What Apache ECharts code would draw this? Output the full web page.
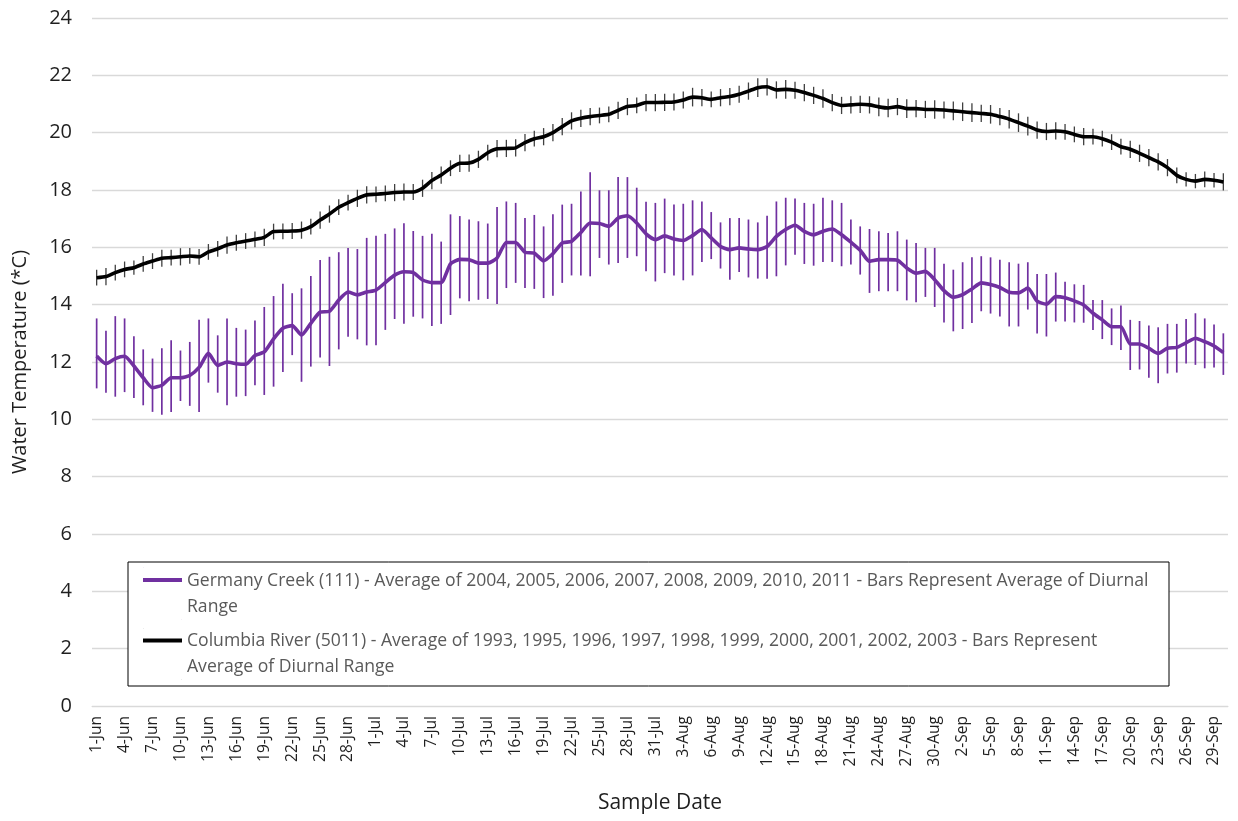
<!DOCTYPE html>
<html>
<head>
<meta charset="utf-8">
<script src="https://cdn.jsdelivr.net/npm/echarts@6/dist/echarts.min.js"></script>
<style>html,body{margin:0;padding:0;background:#fff}#c{width:1238px;height:821px}</style>
</head>
<body>
<div id="c"></div>
<script>
const months = ['Jun','Jul','Aug','Sep'];
const monthDays = [30,31,31,30];
const categories = [];
months.forEach((m,k)=>{for(let d=1; d<=monthDays[k]; d++) categories.push(d+'-'+m);});

const yTicks = [0,2,4,6,8,10,12,14,16,18,20,22,24];

const germanyMean = [12.21,11.94,12.12,12.2,11.86,11.45,11.1,11.19,11.45,11.45,11.53,11.81,12.3,11.88,12.0,11.94,11.92,12.23,12.35,12.81,
13.18,13.27,12.94,13.35,13.74,13.77,14.16,14.44,14.34,14.44,14.51,14.77,15.03,15.15,15.12,14.86,14.77,14.77,15.42,15.58,
15.57,15.45,15.45,15.63,16.17,16.17,15.83,15.8,15.53,15.78,16.15,16.21,16.52,16.85,16.83,16.73,17.02,17.1,16.85,16.47,
16.27,16.4,16.29,16.24,16.41,16.62,16.33,16.03,15.92,15.98,15.94,15.92,16.03,16.38,16.62,16.77,16.56,16.44,16.56,16.64,
16.44,16.18,15.9,15.51,15.57,15.57,15.55,15.28,15.1,15.16,14.87,14.49,14.26,14.35,14.55,14.76,14.7,14.6,14.43,14.41,
14.58,14.12,14.02,14.28,14.24,14.13,13.99,13.7,13.47,13.23,13.23,12.63,12.63,12.48,12.3,12.48,12.51,12.67,12.83,12.71,
12.56,12.33];
const germanyHigh = [13.52,13.09,13.6,13.52,12.9,12.44,12.12,12.48,12.76,12.4,12.7,13.47,13.52,12.93,13.52,13.19,13.13,13.45,13.92,14.3,
14.73,14.4,14.57,15.0,15.56,15.67,15.83,15.98,15.94,16.33,16.4,16.47,16.66,16.84,16.57,16.4,16.47,16.2,17.15,17.09,
16.97,16.91,16.83,17.41,17.6,17.55,17.02,17.13,16.73,17.15,17.49,17.52,17.95,18.62,17.99,17.99,18.45,18.45,18.08,17.59,
17.55,17.7,17.49,17.52,17.64,17.6,17.23,16.87,17.02,17.02,16.97,16.87,17.1,17.6,17.73,17.7,17.55,17.52,17.73,17.64,
17.55,16.97,16.73,16.64,16.56,16.5,16.56,16.27,16.15,15.98,15.98,15.43,15.22,15.48,15.65,15.69,15.65,15.57,15.48,15.43,
15.48,15.07,15.07,15.12,14.8,14.71,14.69,14.16,14.16,13.87,13.97,13.47,13.43,13.27,13.21,13.33,13.33,13.5,13.7,13.52,
13.31,13.0];
const germanyLow = [11.08,10.93,10.79,10.95,10.74,10.49,10.26,10.16,10.26,10.64,10.47,10.26,11.28,10.93,10.49,10.79,10.81,11.19,10.85,11.14,
11.65,12.24,11.31,11.84,12.16,11.86,12.44,12.88,12.79,12.58,12.58,13.12,13.5,13.33,13.58,13.52,13.26,13.33,13.64,14.22,
14.12,14.17,14.2,14.02,14.58,14.76,14.58,14.55,14.23,14.31,14.76,15.02,15.02,14.99,15.63,15.4,15.45,15.63,15.69,15.17,
14.81,15.1,15.02,14.85,15.02,15.49,15.59,15.26,14.87,15.14,14.95,14.91,14.9,14.99,15.37,15.74,15.42,15.36,15.49,15.49,
15.34,15.4,15.05,14.41,14.47,14.47,14.47,14.15,14.08,14.27,13.92,13.38,13.07,13.15,13.36,13.77,13.69,13.59,13.24,13.24,
13.83,12.99,12.89,13.41,13.41,13.38,13.37,13.12,12.8,12.59,12.42,11.72,11.74,11.45,11.26,11.6,11.63,11.95,11.9,11.78,
11.81,11.55];

const columbiaMean = [14.94,14.98,15.12,15.23,15.29,15.42,15.52,15.62,15.64,15.67,15.7,15.67,15.84,15.95,16.08,16.16,16.22,16.28,16.35,16.55,
16.56,16.57,16.6,16.72,16.95,17.16,17.4,17.56,17.71,17.83,17.85,17.88,17.91,17.93,17.93,18.06,18.33,18.52,18.76,18.93,
18.94,19.07,19.3,19.44,19.45,19.47,19.65,19.79,19.86,20.0,20.21,20.41,20.5,20.56,20.6,20.64,20.78,20.91,20.95,21.05,
21.05,21.06,21.07,21.14,21.24,21.22,21.16,21.22,21.26,21.34,21.45,21.57,21.6,21.49,21.51,21.48,21.4,21.3,21.19,21.05,
20.95,20.97,20.99,20.97,20.9,20.86,20.91,20.84,20.84,20.81,20.81,20.79,20.76,20.73,20.7,20.67,20.64,20.56,20.47,20.35,
20.23,20.09,20.04,20.06,20.03,19.94,19.86,19.86,19.79,19.67,19.51,19.42,19.28,19.13,18.98,18.78,18.51,18.37,18.31,18.37,
18.34,18.28];
const columbiaRange = [0.55,0.6,0.55,0.55,0.5,0.55,0.55,0.6,0.55,0.6,0.55,0.55,0.55,0.55,0.6,0.55,0.55,0.55,0.6,0.55,
0.55,0.55,0.6,0.55,0.6,0.6,0.55,0.55,0.6,0.6,0.55,0.55,0.6,0.6,0.55,0.6,0.6,0.6,0.55,0.6,
0.6,0.6,0.55,0.6,0.6,0.6,0.6,0.55,0.6,0.6,0.6,0.6,0.6,0.6,0.55,0.55,0.6,0.6,0.55,0.6,
0.6,0.6,0.6,0.6,0.65,0.6,0.55,0.6,0.6,0.6,0.6,0.65,0.6,0.6,0.65,0.6,0.6,0.6,0.65,0.6,
0.6,0.6,0.6,0.6,0.65,0.65,0.6,0.65,0.6,0.6,0.65,0.6,0.65,0.65,0.65,0.6,0.65,0.6,0.65,0.65,
0.65,0.6,0.6,0.6,0.55,0.55,0.6,0.55,0.55,0.55,0.55,0.6,0.6,0.6,0.6,0.6,0.55,0.5,0.5,0.55,
0.5,0.6];

const seriesNames = [
  'Germany Creek (111) - Average of 2004, 2005, 2006, 2007, 2008, 2009, 2010, 2011 - Bars Represent Average of Diurnal Range',
  'Columbia River (5011) - Average of 1993, 1995, 1996, 1997, 1998, 1999, 2000, 2001, 2002, 2003 - Bars Represent Average of Diurnal Range'
];
const legendText = {};
legendText[seriesNames[0]] = 'Germany Creek (111) - Average of 2004, 2005, 2006, 2007, 2008, 2009, 2010, 2011 - Bars Represent Average of Diurnal\nRange';
legendText[seriesNames[1]] = 'Columbia River (5011) - Average of 1993, 1995, 1996, 1997, 1998, 1999, 2000, 2001, 2002, 2003 - Bars Represent\nAverage of Diurnal Range';

const purple = '#7030A0';
const germanyBars = germanyMean.map((v,i)=>[i, germanyLow[i], germanyHigh[i]]);
const columbiaBars = columbiaMean.map((v,i)=>[i, v - columbiaRange[i]/2, v + columbiaRange[i]/2]);

function barRenderer(color, width){
  return function(params, api){
    const x = api.value(0);
    const p1 = api.coord([x, api.value(1)]);
    const p2 = api.coord([x, api.value(2)]);
    return {type:'line', shape:{x1:p1[0], y1:p1[1], x2:p2[0], y2:p2[1]},
      style:{stroke:color, lineWidth:width}};
  };
}

const font = '"Open Sans", sans-serif';
const chart = echarts.init(document.getElementById('c'), null, {renderer:'canvas'});
chart.setOption({
  animation:false,
  backgroundColor:'#fff',
  textStyle:{fontFamily:font},
  grid:{left:92, right:10, top:18, bottom:115, containLabel:false},
  xAxis:{
    type:'category', data:categories, boundaryGap:true,
    name:'Sample Date', nameLocation:'middle', nameGap:87,
    nameTextStyle:{fontSize:21, color:'#1f1f1f', fontFamily:font},
    axisLine:{lineStyle:{color:'#d9d9d9', width:1}},
    axisTick:{show:false},
    axisLabel:{interval:2, rotate:90, fontSize:15.5, color:'#1f1f1f', margin:10, fontFamily:font},
    splitLine:{show:false}
  },
  yAxis:{
    type:'value', min:yTicks[0], max:yTicks[yTicks.length-1], interval:2,
    name:'Water Temperature (*C)', nameLocation:'middle', nameGap:62,
    nameTextStyle:{fontSize:20, color:'#1f1f1f', fontFamily:font},
    axisLine:{show:false}, axisTick:{show:false},
    axisLabel:{fontSize:20, color:'#1f1f1f', margin:20, fontFamily:font},
    splitLine:{lineStyle:{color:'#d9d9d9', width:1.3}}
  },
  legend:{
    orient:'vertical', left:128, top:562,
    data:seriesNames,
    formatter:function(n){return legendText[n];},
    backgroundColor:'#fff', borderColor:'#000', borderWidth:1,
    padding:[5.5,18,6,15], itemGap:8.5, itemWidth:39, itemHeight:52,
    icon:'path://M0 0H0.3V0.3H0Z M0 10.5H39V14.5H0Z M38.7 51.7H39V52H38.7Z',
    textStyle:{fontSize:17.6, lineHeight:26, color:'#595959', width:964, fontFamily:font}
  },
  series:[
    {type:'custom', name:'gBars', renderItem:barRenderer(purple, 1.7), data:germanyBars,
     encode:{x:0, y:[1,2]}, z:2, silent:true},
    {type:'custom', name:'cBars', renderItem:barRenderer('#404040', 1.3), data:columbiaBars,
     encode:{x:0, y:[1,2]}, z:2, silent:true},
    {type:'line', name:seriesNames[0], data:germanyMean, showSymbol:false, smooth:0.2,
     lineStyle:{color:purple, width:3.6, join:'round'}, itemStyle:{color:purple}, z:3},
    {type:'line', name:seriesNames[1], data:columbiaMean, showSymbol:false, smooth:0.2,
     lineStyle:{color:'#000', width:3.6, join:'round'}, itemStyle:{color:'#000'}, z:3}
  ]
});
</script>
</body>
</html>
